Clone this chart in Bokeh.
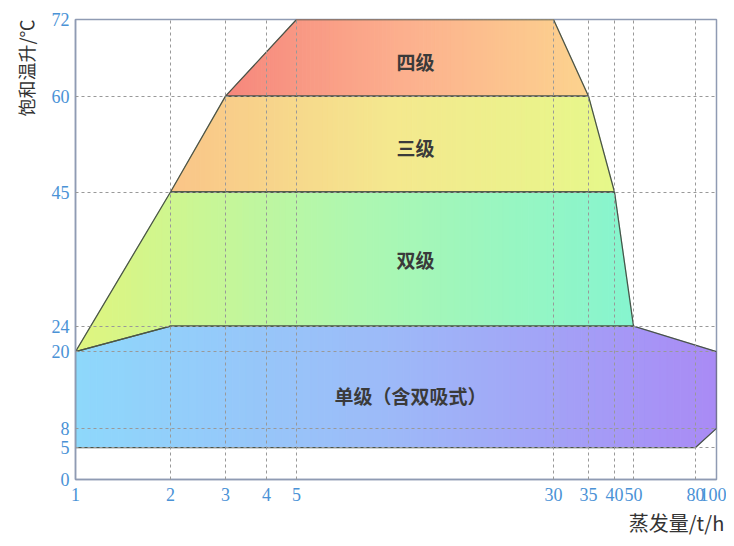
import numpy as np
from bokeh.plotting import figure
from bokeh.models import FixedTicker, Label, Range1d, Title
from bokeh.embed import file_html
from bokeh.resources import INLINE

# ---- data ----
x_tick_values = [1, 2, 3, 4, 5, 30, 35, 40, 50, 80, 100]
x_tick_labels = ["1", "2", "3", "4", "5", "30", "35", "40", "50", "80", "100"]
y_tick_values = [0, 5, 8, 20, 24, 45, 60, 72]
y_tick_labels = ["0", "5", "8", "20", "24", "45", "60", "72"]

# axis layout of the non-uniform steam-output axis (screen spacing of ticks)
x_axis_layout = [0, 95, 150, 191, 221, 478, 513, 539, 558, 620, 641]

region_names = ["单级（含双吸式）", "双级", "三级", "四级"]
single_x = [1, 2, 50, 100, 100, 80, 1]
single_y = [20, 24, 24, 20, 8, 5, 5]
double_x = [1, 2, 40, 50, 2]
double_y = [20, 45, 45, 24, 24]
three_x = [2, 3, 35, 40]
three_y = [45, 60, 60, 45]
four_x = [3, 5, 30, 35]
four_y = [60, 72, 72, 60]
label_y = [13.2, 34.4, 52.0, 65.5]

colors_left = ["#8ed8fb", "#e0f57e", "#fac488", "#f6877c"]
colors_mid = ["#9db9f8", "#aef7b0", "#f4e88e", "#fcb08e"]
colors_right = ["#a98af5", "#86f5cf", "#e6f88a", "#fcd38e"]


def to_pos(v):
    return np.interp(v, x_tick_values, x_axis_layout)


def hex2rgb(h):
    h = h.lstrip("#")
    return np.array([int(h[i:i + 2], 16) for i in (0, 2, 4)], dtype=float)


def grad_color(c0, c1, c2, t):
    a, b, c = hex2rgb(c0), hex2rgb(c1), hex2rgb(c2)
    if t < 0.5:
        r = a + (b - a) * (t / 0.5)
    else:
        r = b + (c - b) * ((t - 0.5) / 0.5)
    return "#%02x%02x%02x" % tuple(int(round(v)) for v in r)


def clip_half(pts, x0, keep_greater):
    out = []
    n = len(pts)
    for i in range(n):
        cur, prev = pts[i], pts[i - 1]
        cin = cur[0] >= x0 if keep_greater else cur[0] <= x0
        pin = prev[0] >= x0 if keep_greater else prev[0] <= x0
        if cin:
            if not pin:
                t = (x0 - prev[0]) / (cur[0] - prev[0])
                out.append((x0, prev[1] + t * (cur[1] - prev[1])))
            out.append(cur)
        elif pin:
            t = (x0 - prev[0]) / (cur[0] - prev[0])
            out.append((x0, prev[1] + t * (cur[1] - prev[1])))
    return out


p = figure(width=726, height=538, output_backend="svg", toolbar_location=None,
           x_range=Range1d(0, x_axis_layout[-1]), y_range=Range1d(0, 72),
           min_border_left=75, min_border_right=10, min_border_top=19,
           min_border_bottom=57)
p.background_fill_color = "white"
p.border_fill_color = "white"

polys = [(single_x, single_y), (double_x, double_y), (three_x, three_y), (four_x, four_y)]

# gradient fills drawn as thin vertical slices
for (px, py), cl, cm, cr in zip(polys, colors_left, colors_mid, colors_right):
    pts = list(zip(to_pos(px), py))
    xmin = min(q[0] for q in pts)
    xmax = max(q[0] for q in pts)
    n = 90
    edges = np.linspace(xmin, xmax, n + 1)
    xs, ys, cs = [], [], []
    for i in range(n):
        c = clip_half(pts, edges[i], True)
        c = clip_half(c, edges[i + 1], False) if c else c
        if len(c) < 3:
            continue
        xs.append([q[0] for q in c])
        ys.append([q[1] for q in c])
        cs.append(grad_color(cl, cm, cr, (i + 0.5) / n))
    p.patches(xs, ys, fill_color=cs, line_color=cs, line_width=1)

# outlines
p.patches([list(to_pos(px)) for px, _ in polys], [list(py) for _, py in polys],
          fill_color=None, line_color="#4a554a", line_width=1.3)

# grids
p.xgrid.ticker = FixedTicker(ticks=x_axis_layout[1:-1])
p.ygrid.ticker = FixedTicker(ticks=y_tick_values[1:-1])
for g in (p.xgrid, p.ygrid):
    g.grid_line_color = "#999999"
    g.grid_line_dash = "3 3"
    g.grid_line_width = 1
    g.level = "overlay"

# axes
p.xaxis.ticker = FixedTicker(ticks=x_axis_layout)
p.xaxis.major_label_overrides = {pos: lab for pos, lab in zip(x_axis_layout, x_tick_labels)}
p.yaxis.ticker = FixedTicker(ticks=y_tick_values)
p.yaxis.major_label_overrides = {v: lab for v, lab in zip(y_tick_values, y_tick_labels)}
for ax in (p.xaxis, p.yaxis):
    ax.axis_line_color = "#8f9bb3"
    ax.axis_line_width = 1.5
    ax.major_tick_line_color = None
    ax.minor_tick_line_color = None
    ax.major_tick_out = 0
    ax.major_tick_in = 0
    ax.minor_tick_out = 0
    ax.major_label_text_font = "Liberation Serif"
    ax.major_label_text_font_size = "18px"
    ax.major_label_text_color = "#4a92d6"
p.xaxis.major_label_standoff = 8
p.yaxis.major_label_standoff = 6
p.outline_line_color = "#8f9bb3"
p.outline_line_width = 1.5

# region labels
label_x = [335, 340, 340, 340]
for name, lx, ly in zip(region_names, label_x, label_y):
    p.add_layout(Label(x=lx, y=ly, text=name, text_align="center", text_baseline="middle",
                       text_font="Noto Sans CJK SC", text_font_size="19px",
                       text_font_style="bold", text_color="#3a3a3a"))

# axis titles
p.add_layout(Title(text="饱和温升/℃", align="right", text_font="Noto Sans CJK SC",
                   text_font_size="18px", text_font_style="normal", text_color="#333333",
                   standoff=20, offset=0), "left")
p.add_layout(Title(text="蒸发量/t/h", align="right", text_font="Noto Sans CJK SC",
                   text_font_size="20px", text_font_style="normal", text_color="#333333",
                   standoff=4, offset=-8), "below")

open("out.html", "w").write(file_html(p, INLINE))
